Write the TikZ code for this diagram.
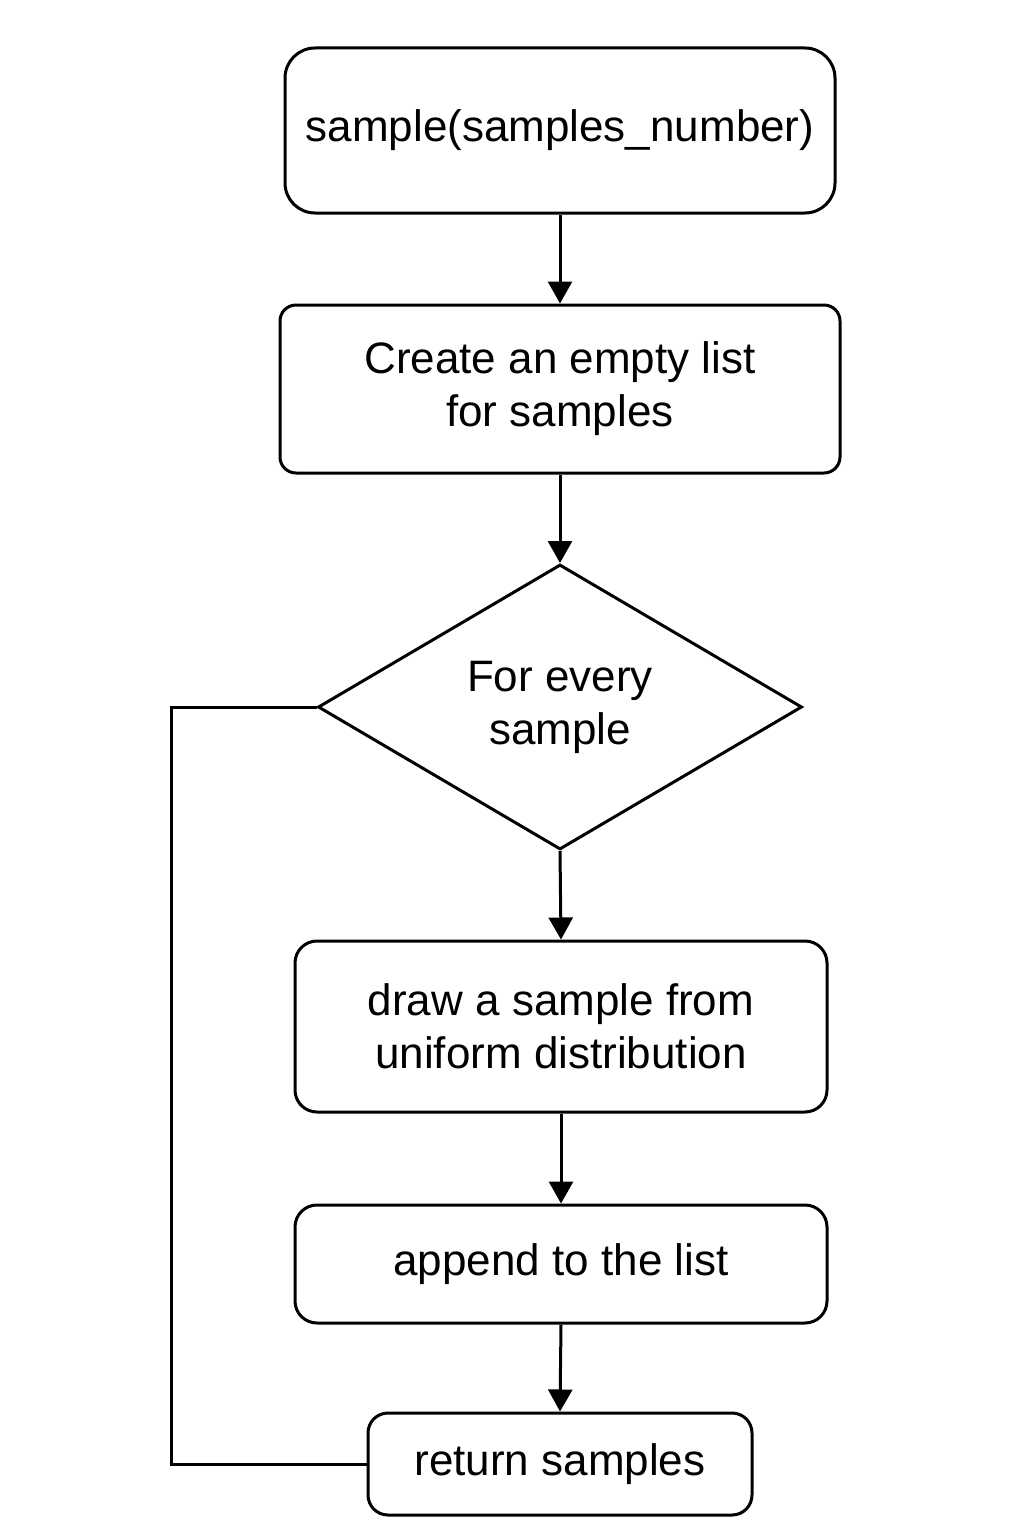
\documentclass[tikz,border=0pt]{standalone}
\usepackage{fontspec}
\setmainfont{Liberation Sans}
\usetikzlibrary{shapes.geometric,arrows.meta}
\begin{document}
\begin{tikzpicture}[x=1pt,y=-1pt,
  every node/.style={font=\fontsize{44}{53}\selectfont, align=center, line width=3pt},
  box/.style={draw, rectangle, inner sep=0pt},
  dec/.style={draw, diamond, inner sep=0pt, minimum width=484pt, minimum height=285pt},
  flow/.style={line width=3pt, -{Triangle[length=22pt,width=24pt]}},
  loopline/.style={line width=3pt}]
\useasboundingbox (0,0) rectangle (1024,1536);
\node[box, rounded corners=30pt, minimum width=550pt, minimum height=165pt] (b1) at (560,130.5) {sample(samples\_number)};
\node[box, rounded corners=16pt, minimum width=560pt, minimum height=168pt] (b2) at (560,389) {Create an empty list\\for samples};
\node[dec] (d) at (560,707) {For every\\sample};
\node[box, rounded corners=22pt, minimum width=532pt, minimum height=171pt] (b3) at (561,1026.5) {draw a sample from\\uniform distribution};
\node[box, rounded corners=22pt, minimum width=532pt, minimum height=118pt] (b4) at (561,1264) {append to the list};
\node[box, rounded corners=20pt, minimum width=384pt, minimum height=102pt] (b5) at (560,1464) {return samples};
\draw[flow] (b1.south) -- (b2.north);
\draw[flow] (b2.south) -- (d.north);
\draw[flow] (d.south) -- (b3.north);
\draw[flow] (b3.south) -- (b4.north);
\draw[flow] (b4.south) -- (b5.north);
\draw[loopline] (d.west) -- ++(-145,0) |- (b5.west);
\end{tikzpicture}
\end{document}
